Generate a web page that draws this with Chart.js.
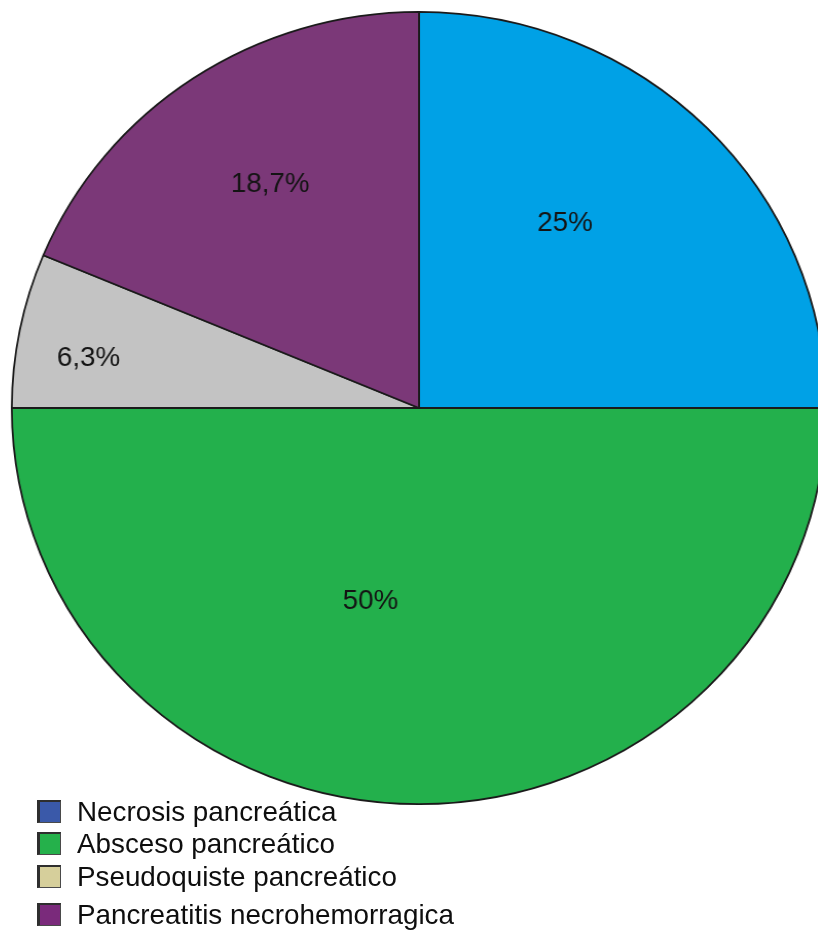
<!DOCTYPE html>
<html>
<head>
<meta charset="utf-8">
<script src="https://cdn.jsdelivr.net/npm/chart.js@4/dist/chart.umd.min.js"></script>
<style>
  html, body { margin: 0; padding: 0; background: #ffffff; }
  #page { position: relative; width: 818px; height: 930px; overflow: hidden; }
  #pieWrap {
    position: absolute; left: 22px; top: 11px; width: 794px; height: 794px;
    transform: scaleX(1.028); transform-origin: 397px 397px;
  }
  #legend { position: absolute; left: 0; top: 0; }
  .row { position: absolute; left: 37px; display: flex; align-items: center; white-space: nowrap; }
  .box {
    width: 20px; height: 20px; box-sizing: content-box;
    border-left: 3px solid #2e2e2e; border-top: 2px solid #2e2e2e;
    border-right: 1px solid #4a4a4a; border-bottom: 1px solid #4a4a4a;
  }
  .txt {
    margin-left: 16px; font-family: "Liberation Sans", Arial, sans-serif;
    font-size: 27.8px; color: #0e0e0e; line-height: 1;
  }
</style>
</head>
<body>
<div id="page">
  <div id="pieWrap"><canvas id="pie" width="794" height="794"></canvas></div>
  <div id="legend"></div>
</div>
<script>
// Tipos de complicación pancreática (porcentaje de casos)
const categories = [
  'Necrosis pancreática',
  'Absceso pancreático',
  'Pseudoquiste pancreático',
  'Pancreatitis necrohemorragica'
];
const percentages = [25, 50, 6.3, 18.7];

// Slice fills and legend swatch fills
const sliceColors = ['#00a1e6', '#23b04c', '#c3c3c3', '#7b3878'];
const swatchColors = ['#3a59a9', '#25b14b', '#d6cf9b', '#7a2a7b'];

// Where each value label sits inside its slice: [fraction of arc angle, fraction of radius]
const labelPlacement = [[0.414, 0.592], [0.577, 0.498], [0.405, 0.822], [0.515, 0.677]];
// Vertical position (top, px) of each legend row
const legendRowTops = [798, 830, 863, 901];

const fmt = v => String(v).replace('.', ',') + '%';

const valueLabels = {
  id: 'valueLabels',
  afterDatasetsDraw(chart) {
    const ctx = chart.ctx;
    const arcs = chart.getDatasetMeta(0).data;
    const size = 27;
    ctx.save();
    ctx.font = size + 'px "Liberation Sans", Arial, sans-serif';
    ctx.fillStyle = '#141414';
    ctx.textAlign = 'center';
    ctx.textBaseline = 'alphabetic';
    arcs.forEach((arc, i) => {
      const p = arc.getProps(['x', 'y', 'startAngle', 'endAngle', 'outerRadius'], true);
      const [fa, fr] = labelPlacement[i];
      const a = p.startAngle + fa * (p.endAngle - p.startAngle);
      const r = p.outerRadius * fr;
      const x = p.x + Math.cos(a) * r;
      const y = p.y + Math.sin(a) * r;
      ctx.fillText(fmt(percentages[i]), x, y + 0.358 * size);
    });
    ctx.restore();
  }
};

new Chart(document.getElementById('pie'), {
  type: 'pie',
  data: {
    labels: categories,
    datasets: [{
      data: percentages,
      backgroundColor: sliceColors,
      borderColor: '#1a1a1a',
      borderWidth: 1.8,
      hoverOffset: 0,
      offset: 0
    }]
  },
  options: {
    responsive: false,
    animation: false,
    layout: { padding: 0 },
    events: [],
    plugins: {
      legend: { display: false },
      tooltip: { enabled: false }
    }
  },
  plugins: [valueLabels]
});

// Legend rows built from the same categories
const legend = document.getElementById('legend');
categories.forEach((name, i) => {
  const row = document.createElement('div');
  row.className = 'row';
  row.style.top = legendRowTops[i] + 'px';
  const box = document.createElement('div');
  box.className = 'box';
  box.style.background = swatchColors[i];
  const txt = document.createElement('span');
  txt.className = 'txt';
  txt.textContent = name;
  row.appendChild(box);
  row.appendChild(txt);
  legend.appendChild(row);
});
</script>
</body>
</html>
